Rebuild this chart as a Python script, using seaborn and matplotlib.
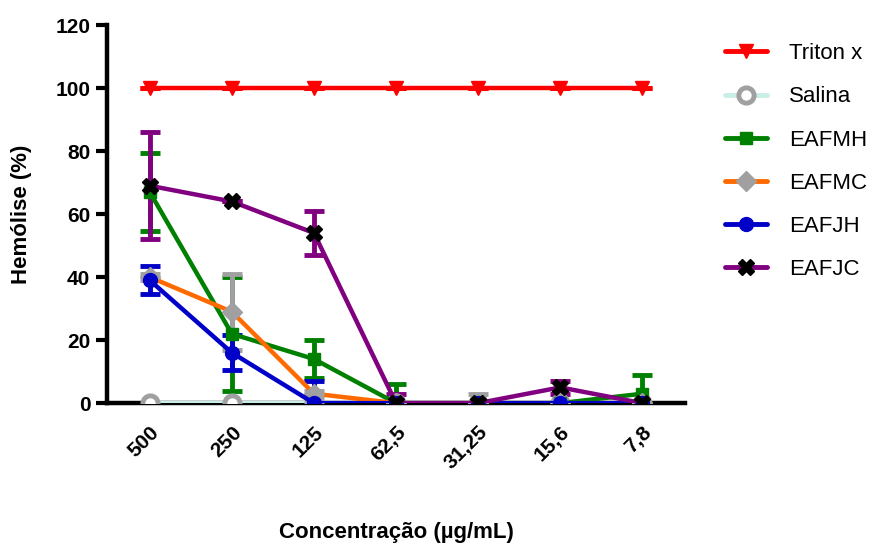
import numpy as np
import pandas as pd
import matplotlib
matplotlib.use("Agg")
import matplotlib.pyplot as plt
import seaborn as sns
from matplotlib.lines import Line2D

concentrations = ["500", "250", "125", "62,5", "31,25", "15,6", "7,8"]
series_names = ["Triton x", "Salina", "EAFMH", "EAFMC", "EAFJH", "EAFJC"]
y_ticks = [0, 20, 40, 60, 80, 100, 120]

triton = [100, 100, 100, 100, 100, 100, 100]
triton_err = [0, 0, 0, 0, 0, 0, 0]
salina = [0, 0, 0, 0, 0, 0, 0]
salina_err = [0, 0, 0, 0, 0, 0, 0]
eafmh = [67, 22, 14, 0, 0, 0, 3]
eafmh_err = [12.5, 18, 6, 6, 0, 0, 6]
eafmc = [40, 29, 3, 0, 0, 0, 0]
eafmc_err = [1, 12, 1, 0, 3, 0, 0]
eafjh = [39, 16, 0, 0, 0, 0, 0]
eafjh_err = [4.5, 5.5, 7, 0, 0, 0, 0]
eafjc = [69, 64, 54, 0, 0, 5, 0]
eafjc_err = [17, 0, 7, 3, 0, 2, 0]

values = [triton, salina, eafmh, eafmc, eafjh, eafjc]
errors = [triton_err, salina_err, eafmh_err, eafmc_err, eafjh_err, eafjc_err]

styles = {
    "Triton x": dict(line="#ff0000", marker="v", mfc="#ff0000", mec="#ff0000", err="#ff0000", ms=10, mew=1),
    "Salina":   dict(line="#c8eee6", marker="o", mfc="white", mec="#a0a0a0", err="#a0a0a0", ms=11, mew=3.5),
    "EAFMH":    dict(line="#008000", marker="s", mfc="#008000", mec="#008000", err="#008000", ms=9, mew=1),
    "EAFMC":    dict(line="#ff6a00", marker="D", mfc="#a0a0a0", mec="#a0a0a0", err="#a0a0a0", ms=10, mew=1),
    "EAFJH":    dict(line="#0000c8", marker="o", mfc="#0000c8", mec="#0000c8", err="#0000c8", ms=10, mew=1),
    "EAFJC":    dict(line="#800080", marker="X", mfc="black", mec="black", err="#800080", ms=12, mew=1),
}

rows = []
for name, vals in zip(series_names, values):
    for i, (c, v) in enumerate(zip(concentrations, vals)):
        rows.append(dict(series=name, pos=i, conc=c, value=v))
df = pd.DataFrame(rows)

sns.set_style("ticks")
plt.rcParams["font.family"] = ["Liberation Sans", "DejaVu Sans"]
plt.rcParams["text.color"] = "black"
plt.rcParams["axes.labelcolor"] = "black"
plt.rcParams["xtick.color"] = "black"
plt.rcParams["ytick.color"] = "black"

fig = plt.figure(figsize=(8.92, 5.5), dpi=100)
ax = fig.add_axes([0.12, 0.267, 0.648, 0.6875])

for name, errs in zip(series_names, errors):
    st = styles[name]
    sub = df[df.series == name]
    ax.errorbar(sub["pos"], sub["value"], yerr=errs, fmt="none", ecolor=st["err"],
                elinewidth=3.5, capsize=7, capthick=3.5, zorder=2)
    sns.lineplot(data=sub, x="pos", y="value", ax=ax, color=st["line"], linewidth=3.2,
                 marker=st["marker"], markersize=st["ms"], markerfacecolor=st["mfc"],
                 markeredgecolor=st["mec"], markeredgewidth=st["mew"], legend=False,
                 errorbar=None, zorder=3)

ax.set_xlim(-0.52, len(concentrations) - 1 + 0.52)
ax.set_ylim(0, 120)
ax.set_xlabel("Concentração (µg/mL)", fontsize=16, fontweight="bold")
ax.set_ylabel("Hemólise (%)", fontsize=16, fontweight="bold")
ax.set_yticks(y_ticks, labels=[str(v) for v in y_ticks], fontsize=15, fontweight="bold")
ax.set_xticks(range(len(concentrations)), labels=concentrations, rotation=45, ha="right",
              rotation_mode="anchor", fontsize=15, fontweight="bold")
ax.tick_params(axis="y", length=8, width=3, pad=4)
ax.tick_params(axis="x", length=0, pad=14)
for sp in ["top", "right"]:
    ax.spines[sp].set_visible(False)
for sp in ["left", "bottom"]:
    ax.spines[sp].set_linewidth(3.2)
    ax.spines[sp].set_color("black")
ax.xaxis.set_label_coords(0.5, -0.315)
ax.yaxis.set_label_coords(-0.13, 0.5)

handles = []
for name in series_names:
    st = styles[name]
    handles.append(Line2D([0], [0], color=st["line"], linewidth=3.5, marker=st["marker"],
                          markersize=st["ms"], markerfacecolor=st["mfc"],
                          markeredgecolor=st["mec"], markeredgewidth=st["mew"]))
leg = fig.legend(handles, series_names, loc="upper left", bbox_to_anchor=(0.79, 0.958),
                 frameon=False, fontsize=16, handlelength=1.9, labelspacing=1.0,
                 handletextpad=1.0)

fig.savefig("out.png", dpi=100)
